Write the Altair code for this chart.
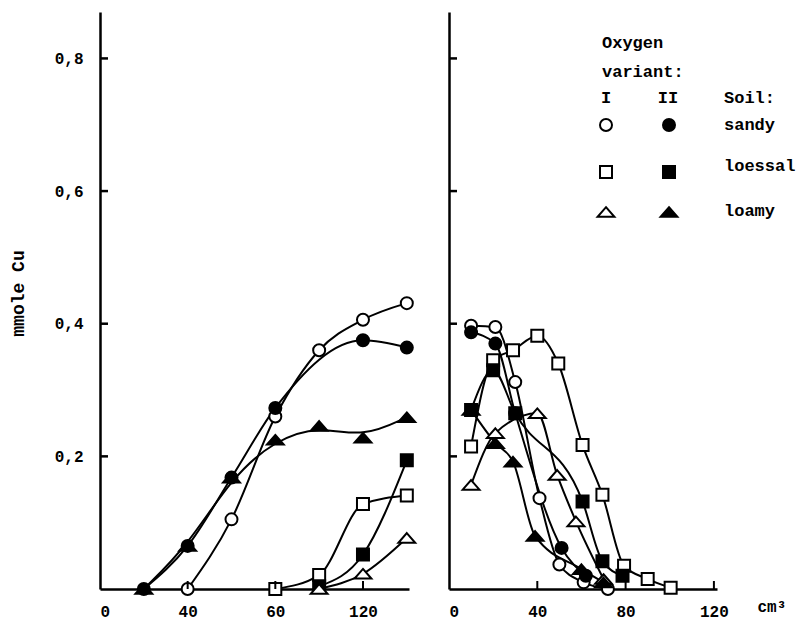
import altair as alt
import pandas as pd

# ---------------- data ----------------
SOILS = ["sandy", "loessal", "loamy"]
VARIANTS = ["I", "II"]

# left panel
L_SANDY_I_X = [40, 60, 80, 100, 120, 140]
L_SANDY_I_Y = [0.0, 0.105, 0.26, 0.36, 0.406, 0.431]
L_SANDY_II_X = [20, 40, 60, 80, 120, 140]
L_SANDY_II_Y = [0.0, 0.065, 0.168, 0.273, 0.375, 0.364]
L_LOESSAL_I_X = [80, 100, 120, 140]
L_LOESSAL_I_Y = [0.0, 0.021, 0.128, 0.141]
L_LOESSAL_II_X = [100, 120, 140]
L_LOESSAL_II_Y = [0.004, 0.052, 0.194]
L_LOAMY_I_X = [100, 120, 140]
L_LOAMY_I_Y = [0.0, 0.023, 0.077]
L_LOAMY_II_X = [20, 40, 60, 80, 100, 120, 140]
L_LOAMY_II_Y = [0.0, 0.065, 0.168, 0.225, 0.246, 0.228, 0.259]

# right panel
R_SANDY_I_X = [10, 21, 30, 41, 50, 61, 72]
R_SANDY_I_Y = [0.397, 0.395, 0.312, 0.137, 0.037, 0.01, 0.0]
R_SANDY_II_X = [10, 21, 30, 51, 62]
R_SANDY_II_Y = [0.387, 0.37, 0.265, 0.062, 0.02]
R_LOESSAL_I_X = [10, 20, 29, 40, 49.5, 60.5, 69.5, 79.3, 90, 100.4]
R_LOESSAL_I_Y = [0.215, 0.345, 0.36, 0.382, 0.34, 0.217, 0.142, 0.035, 0.015, 0.002]
R_LOESSAL_II_X = [10, 20, 30, 60.5, 69.5, 78.6]
R_LOESSAL_II_Y = [0.27, 0.33, 0.265, 0.132, 0.042, 0.02]
R_LOAMY_I_X = [10, 21, 40, 49, 57.5, 70]
R_LOAMY_I_Y = [0.157, 0.235, 0.265, 0.172, 0.102, 0.015]
R_LOAMY_II_X = [10, 21, 29, 39, 60, 70]
R_LOAMY_II_Y = [0.27, 0.22, 0.192, 0.08, 0.03, 0.01]

X_TICKS = [0, 40, 80, 120]
Y_TICKS = [0.2, 0.4, 0.6, 0.8]

LEFT = {
    ("sandy", "I"): (L_SANDY_I_X, L_SANDY_I_Y),
    ("sandy", "II"): (L_SANDY_II_X, L_SANDY_II_Y),
    ("loessal", "I"): (L_LOESSAL_I_X, L_LOESSAL_I_Y),
    ("loessal", "II"): (L_LOESSAL_II_X, L_LOESSAL_II_Y),
    ("loamy", "I"): (L_LOAMY_I_X, L_LOAMY_I_Y),
    ("loamy", "II"): (L_LOAMY_II_X, L_LOAMY_II_Y),
}
RIGHT = {
    ("sandy", "I"): (R_SANDY_I_X, R_SANDY_I_Y),
    ("sandy", "II"): (R_SANDY_II_X, R_SANDY_II_Y),
    ("loessal", "I"): (R_LOESSAL_I_X, R_LOESSAL_I_Y),
    ("loessal", "II"): (R_LOESSAL_II_X, R_LOESSAL_II_Y),
    ("loamy", "I"): (R_LOAMY_I_X, R_LOAMY_I_Y),
    ("loamy", "II"): (R_LOAMY_II_X, R_LOAMY_II_Y),
}


def to_df(d):
    rows = []
    for (soil, var), (xs, ys) in d.items():
        for x, y in zip(xs, ys):
            rows.append({"x": x, "y": y, "soil": soil, "variant": var,
                         "series": soil + " " + var})
    return pd.DataFrame(rows)


# ---------------- style ----------------
FONT = "Liberation Mono"
TRI = "M0,-0.8L1.4,0.8L-1.4,0.8Z"
SHAPES = ["circle", "square", TRI]
H = 577
Y_DOMAIN = [0, 0.87]
TICK_PX = 8


def panel(d, xmax, width, is_left, smooth_series=()):
    df = to_df(d)
    xs = alt.Scale(domain=[0, xmax], nice=False, zero=False)
    ys = alt.Scale(domain=Y_DOMAIN, nice=False)

    if is_left:
        xaxis = alt.Axis(values=X_TICKS, title=None, labelExpr="datum.value == 80 ? '60' : datum.label")
        yaxis = alt.Axis(values=Y_TICKS, title="mmole Cu",
                         labelExpr="replace(format(datum.value, '.1f'), '.', ',')",
                         labelPadding=17, titleX=-82, titleY=281, titleAngle=270,
                         titleAlign="center", titleBaseline="middle",
                         titleFontSize=18, titleFont=FONT, titleFontWeight="bold")
    else:
        xaxis = alt.Axis(values=X_TICKS, title="cm³", titleX=308, titleY=22,
                         titleAlign="left", titleBaseline="alphabetic",
                         titleFont=FONT, titleFontSize=16, titleFontWeight="bold")
        yaxis = alt.Axis(values=Y_TICKS, labels=False, title=None)

    mono = df[~df["series"].isin(smooth_series)]
    smooth = df[df["series"].isin(smooth_series)]

    X = alt.X("x:Q", scale=xs, axis=xaxis)
    Y = alt.Y("y:Q", scale=ys, axis=yaxis)

    layers = []
    layers.append(
        alt.Chart(mono).mark_line(interpolate="monotone", color="black", strokeWidth=2).encode(
            x=X, y=Y, detail="series:N",
        )
    )
    if len(smooth):
        layers.append(
            alt.Chart(smooth).mark_line(interpolate="basis", color="black", strokeWidth=2).encode(
                x=X, y=Y, detail="series:N",
            )
        )
    layers.append(
        alt.Chart(df).mark_point(filled=True, opacity=1, size=144, strokeWidth=2, stroke="black").encode(
            x=X, y=Y,
            shape=alt.Shape("soil:N", scale=alt.Scale(domain=SOILS, range=SHAPES), legend=None),
            fill=alt.Fill("variant:N", scale=alt.Scale(domain=VARIANTS, range=["white", "black"]), legend=None),
        )
    )
    # inward ticks (tick length converted to data units of each scale)
    xlen = TICK_PX / width * xmax
    ylen = TICK_PX / H * (Y_DOMAIN[1] - Y_DOMAIN[0])
    ytick_df = pd.DataFrame({"y": Y_TICKS, "x": [0.0] * len(Y_TICKS), "x2": [xlen] * len(Y_TICKS)})
    xtick_df = pd.DataFrame({"x": X_TICKS[1:], "y": [0.0] * 3, "y2": [ylen] * 3})
    layers.append(
        alt.Chart(ytick_df).mark_rule(color="black", strokeWidth=2.5).encode(
            y=Y, x=X, x2="x2:Q"
        )
    )
    layers.append(
        alt.Chart(xtick_df).mark_rule(color="black", strokeWidth=2).encode(
            x=X, y=Y, y2="y2:Q"
        )
    )

    if not is_left:
        txt = dict(font=FONT, fontSize=17, fontWeight="bold", color="black", baseline="middle")
        legend_text = [
            ("Oxygen", 153, 31, "left"),
            ("variant:", 153, 60, "left"),
            ("I", 157, 86, "center"),
            ("II", 219, 86, "center"),
            ("Soil:", 275, 86, "left"),
            ("sandy", 275, 113, "left"),
            ("loessal", 275, 154, "left"),
            ("loamy", 275, 199, "left"),
        ]
        for t, x, y, a in legend_text:
            layers.append(
                alt.Chart(pd.DataFrame({"a": [0]})).mark_text(text=t, align=a, **txt).encode(
                    x=alt.value(x), y=alt.value(y)
                )
            )
        row_y = {"sandy": 113, "loessal": 160, "loamy": 200}
        col_x = {"I": 157, "II": 220}
        for soil, shp in zip(SOILS, SHAPES):
            for var, fillc in zip(VARIANTS, ["white", "black"]):
                layers.append(
                    alt.Chart(pd.DataFrame({"a": [0]})).mark_point(
                        shape=shp, size=144, filled=True, fill=fillc, stroke="black",
                        strokeWidth=2, opacity=1
                    ).encode(x=alt.value(col_x[var]), y=alt.value(row_y[soil]))
                )

    return alt.layer(*layers).properties(width=width, height=H)


left = panel(LEFT, 141, 309, True, smooth_series=("loamy II",))
right = panel(RIGHT, 121.4, 268, False)

chart = (
    alt.hconcat(left, right, spacing=27)
    .properties(padding={"left": 9, "top": 12, "right": 0, "bottom": 5}, background="white")
    .configure_view(stroke=None)
    .configure_axis(
        domainColor="black", domainWidth=2.5, grid=False, ticks=False, tickSize=0,
        labelFont=FONT, labelFontSize=16, labelFontWeight="bold", labelColor="black",
        labelPadding=14, titleColor="black",
    )
)

chart.save("out.html", embed_options={"renderer": "svg", "actions": False})
